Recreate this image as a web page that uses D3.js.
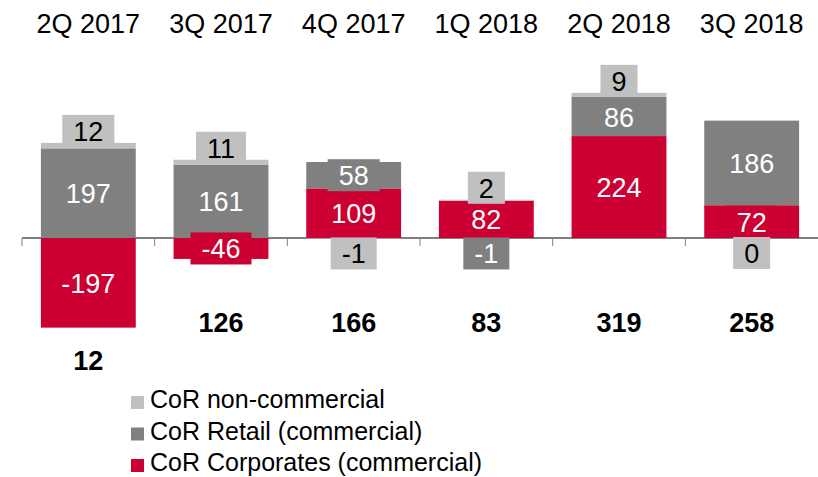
<!DOCTYPE html>
<html>
<head>
<meta charset="utf-8">
<script src="https://cdn.jsdelivr.net/npm/d3@7"></script>
<style>
  body { margin: 0; background: #fff; }
  svg { display: block; font-family: "Liberation Sans", Arial, sans-serif; }
</style>
</head>
<body>
<script>
var quarters = ["2Q 2017", "3Q 2017", "4Q 2017", "1Q 2018", "2Q 2018", "3Q 2018"];
var corporates = [-197, -46, 109, 82, 224, 72];
var retail = [197, 161, 58, -1, 86, 186];
var nonCommercial = [12, 11, -1, 2, 9, 0];
var totals = [12, 126, 166, 83, 319, 258];

var seriesNames = ["CoR non-commercial", "CoR Retail (commercial)", "CoR Corporates (commercial)"];
var keys = ["corporates", "retail", "nonCommercial"];
var colors = { corporates: "#cc0033", retail: "#808080", nonCommercial: "#c0c0c0" };
var textColors = { corporates: "#fff", retail: "#fff", nonCommercial: "#000" };

var w = 818, h = 477;

var rows = quarters.map(function (q, i) {
    return { quarter: q, corporates: corporates[i], retail: retail[i], nonCommercial: nonCommercial[i], total: totals[i] };
});

var svg = d3.select("body").append("svg").attr("width", w).attr("height", h);

var x = d3.scaleBand()
    .domain(quarters)
    .range([22, 818])
    .paddingInner(0.285)
    .paddingOuter(0.1425);

var y = d3.scaleLinear()
    .domain([-200, 300])
    .range([329, 101.5]);

var stack = d3.stack().keys(keys).offset(d3.stackOffsetDiverging);
var layers = stack(rows);

// category labels on top
svg.selectAll("text.cat")
    .data(quarters)
    .enter()
    .append("text")
    .attr("class", "cat")
    .attr("x", function (d) { return x(d) + x.bandwidth() / 2; })
    .attr("y", 33)
    .attr("text-anchor", "middle")
    .attr("font-size", "27px")
    .attr("fill", "#000")
    .text(function (d) { return d; });

// zero line + ticks at category boundaries
svg.append("line")
    .attr("x1", 22).attr("x2", 818)
    .attr("y1", y(0)).attr("y2", y(0))
    .attr("stroke", "#000").attr("stroke-width", 1.2);

svg.selectAll("line.tick")
    .data(quarters)
    .enter()
    .append("line")
    .attr("class", "tick")
    .attr("x1", function (d) { return x(d) - x.step() * x.paddingInner() / 2; })
    .attr("x2", function (d) { return x(d) - x.step() * x.paddingInner() / 2; })
    .attr("y1", y(0))
    .attr("y2", y(0) + 8)
    .attr("stroke", "#808080");

// bars
var groups = svg.selectAll("g.layer")
    .data(layers)
    .enter()
    .append("g")
    .attr("class", "layer")
    .attr("fill", function (d) { return colors[d.key]; });

groups.selectAll("rect")
    .data(function (d) { return d; })
    .enter()
    .append("rect")
    .attr("x", function (d) { return x(d.data.quarter); })
    .attr("width", x.bandwidth())
    .attr("y", function (d) { return y(Math.max(d[0], d[1])); })
    .attr("height", function (d) { return Math.abs(y(d[0]) - y(d[1])); });

// value labels with a box in the series colour
var labels = [];
layers.forEach(function (layer) {
    layer.forEach(function (d) {
        var v = d.data[layer.key];
        var top = y(Math.max(d[0], d[1]));
        var bottom = y(Math.min(d[0], d[1]));
        var cy;
        if (bottom - top >= 15) cy = (top + bottom) / 2;
        else if (v > 0) cy = top - 12;
        else cy = bottom + 15;
        labels.push({ key: layer.key, value: v, cx: x(d.data.quarter) + x.bandwidth() / 2, cy: cy });
    });
});

var lab = svg.selectAll("g.lab")
    .data(labels)
    .enter()
    .append("g")
    .attr("class", "lab");

lab.append("rect");
lab.append("text")
    .attr("x", function (d) { return d.cx; })
    .attr("y", function (d) { return d.cy + 10; })
    .attr("text-anchor", "middle")
    .attr("font-size", "27px")
    .attr("fill", function (d) { return textColors[d.key]; })
    .text(function (d) { return d.value; });

lab.each(function (d) {
    var g = d3.select(this);
    var tw = g.select("text").node().getComputedTextLength();
    g.select("rect")
        .attr("x", d.cx - tw / 2 - 11)
        .attr("y", d.cy - 16)
        .attr("width", tw + 22)
        .attr("height", 32)
        .attr("fill", colors[d.key]);
});

// totals below the bars
svg.selectAll("text.total")
    .data(rows)
    .enter()
    .append("text")
    .attr("class", "total")
    .attr("x", function (d) { return x(d.quarter) + x.bandwidth() / 2; })
    .attr("y", function (d) {
        var low = Math.min(0, d.corporates) + Math.min(0, d.retail) + Math.min(0, d.nonCommercial);
        return Math.max(332, y(low) + 42);
    })
    .attr("text-anchor", "middle")
    .attr("font-size", "27px")
    .attr("font-weight", "bold")
    .attr("fill", "#000")
    .text(function (d) { return d.total; });

// legend
var legendKeys = ["nonCommercial", "retail", "corporates"];
var legend = svg.selectAll("g.legend")
    .data(seriesNames)
    .enter()
    .append("g")
    .attr("class", "legend")
    .attr("transform", function (d, i) { return "translate(131," + (408 + i * 31.5) + ")"; });

legend.append("rect")
    .attr("x", 0).attr("y", -12)
    .attr("width", 13).attr("height", 13)
    .attr("fill", function (d, i) { return colors[legendKeys[i]]; });

legend.append("text")
    .attr("x", 19)
    .attr("y", 0)
    .attr("font-size", "25px")
    .attr("fill", "#000")
    .text(function (d) { return d; });
</script>
</body>
</html>
